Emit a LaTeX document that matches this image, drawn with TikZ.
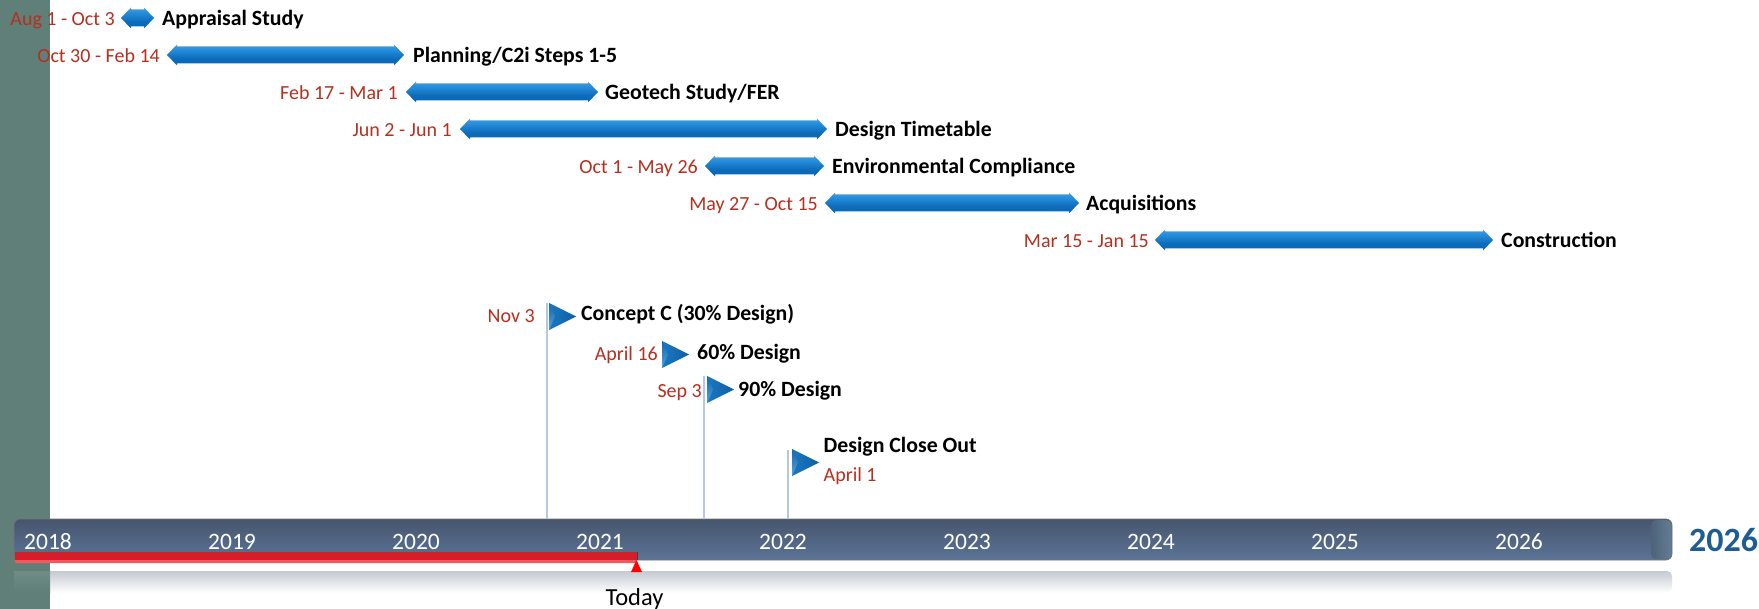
\documentclass[tikz,border=0pt]{standalone}
\usepackage{fontspec}
\setmainfont{Carlito}
\definecolor{bandc}{HTML}{5F7F78}
\definecolor{datec}{HTML}{B5301F}
\definecolor{yearc}{HTML}{1F5C91}
\definecolor{stemc}{HTML}{B4C8E0}
\definecolor{flagl}{HTML}{1B78C2}
\definecolor{flagr}{HTML}{0F5FA3}
\definecolor{flagbevt}{HTML}{1565AC}
\definecolor{flagbevb}{HTML}{4FA8E2}
\definecolor{bartop}{HTML}{46556C}
\definecolor{barbot}{HTML}{5C7498}
\definecolor{capl}{HTML}{4E627A}
\definecolor{capr}{HTML}{647D91}
\definecolor{redlight}{HTML}{F05A5F}
\definecolor{redmain}{HTML}{D61E28}
\definecolor{reflc}{HTML}{C4CAD2}
\definecolor{sa}{HTML}{2E8AD4}
\definecolor{sb}{HTML}{0B69B6}
\definecolor{sc}{HTML}{0C6CBA}
\definecolor{sd}{HTML}{2288D8}
\definecolor{se}{HTML}{3498DE}
\definecolor{sf}{HTML}{7FA5C8}
\pgfdeclareverticalshading{taskbar}{100bp}{
  color(0bp)=(sa);
  color(25bp)=(sa);
  color(30bp)=(sb);
  color(42bp)=(sc);
  color(60bp)=(sd);
  color(70bp)=(se);
  color(75bp)=(sf);
  color(100bp)=(sf)}
\tikzset{
  taskt/.style={anchor=mid west,inner sep=0pt,yshift=-5.5pt,font=\fontsize{21.8}{24}\selectfont\bfseries,text=black},
  datel/.style={anchor=mid east,inner sep=0pt,yshift=-5.5pt,font=\fontsize{20}{24}\selectfont,text=datec},
  datew/.style={anchor=mid west,inner sep=0pt,yshift=-4.5pt,font=\fontsize{20}{24}\selectfont,text=datec},
  yeart/.style={anchor=mid,inner sep=0pt,yshift=-6.5pt,font=\fontsize{23.5}{26}\selectfont,text=white},
  stemline/.style={draw=stemc,line width=1.6pt},
}
% double arrow: #1 x left, #2 x right, #3 y centre
\newcommand{\dblarrow}[3]{%
  \path[shading=taskbar]
    (#1,#3) -- (#1+10,#3-10.5) -- (#1+10,#3-8.5) -- (#2-10,#3-8.5) -- (#2-10,#3-10.5) -- (#2,#3)
    -- (#2-10,#3+10.5) -- (#2-10,#3+8.5) -- (#1+10,#3+8.5) -- (#1+10,#3+10.5) -- cycle;
}
% flag: #1 x left, #2 y top
\newcommand{\flagmark}[2]{%
  \path[left color=flagl,right color=flagr]
    (#1,#2) -- (#1+27,#2+13.5) -- (#1,#2+27) -- cycle;
  \path[top color=flagbevt,bottom color=flagbevb]
    (#1,#2) -- (#1+6,#2+13.5) -- (#1,#2+27) -- cycle;
}
\begin{document}
\begin{tikzpicture}[x=1pt,y=-1pt]
\useasboundingbox (0,0) rectangle (1759,609);
\fill[white] (0,0) rectangle (1759,609);
\fill[bandc] (0,0) rectangle (50,609);
% reflection
\path[top color=reflc,bottom color=white,rounded corners=5pt] (14,571) -- (1672,571) -- (1672,593) -- (14,593) -- cycle;
\path[top color=bandc!90!white,bottom color=bandc] (14,571) rectangle (50,593);
% timeline bar
\node[draw=black!55,line width=.6pt,rounded corners=6pt,minimum width=1658pt,minimum height=41pt,inner sep=0pt,
  top color=bartop,bottom color=barbot] (timeline) at (843,539.5) {};
\path[left color=capl,right color=capr,rounded corners=5pt]
  (1651,520) -- (1671.5,520) -- (1671.5,559) -- (1651,559) -- cycle;
% red progress
\fill[redlight,rounded corners=1pt] (15,552) rectangle (637,563);
\fill[redmain] (15,552) rectangle (637,560);
% years
\foreach \yr/\xx in {2018/48,2019/232,2020/416,2021/600,2022/783,2023/967,2024/1151,2025/1335,2026/1519}
  \node[yeart] (y\yr) at (\xx,541) {\yr};
\node[anchor=mid west,inner sep=0pt,font=\fontsize{34}{36}\selectfont\bfseries,text=yearc] (yend) at (1689,549) {2026};
% today
\fill[red] (631,572) -- (636.5,560) -- (642,572) -- cycle;
\draw[black!75,line width=.8pt] (637,552) -- (637,560);
\node[anchor=mid,inner sep=0pt,font=\fontsize{24.5}{26}\selectfont,text=black] (today) at (634.5,603) {Today};
% tasks
\dblarrow{121}{154}{18}
\node[datel] (d1) at (115,18) {Aug 1 - Oct 3};
\node[taskt] (t1) at (162,18) {Appraisal Study};
\dblarrow{167}{404}{55}
\node[datel] (d2) at (160,55) {Oct 30 - Feb 14};
\node[taskt] (t2) at (413,55) {Planning/C2i Steps 1-5};
\dblarrow{406}{598}{92}
\node[datel] (d3) at (398,92) {Feb 17 - Mar 1};
\node[taskt] (t3) at (605,92) {Geotech Study/FER};
\dblarrow{460}{827}{129}
\node[datel] (d4) at (452,129) {Jun 2 - Jun 1};
\node[taskt] (t4) at (835,129) {Design Timetable};
\dblarrow{705}{824}{166}
\node[datel] (d5) at (698,166) {Oct 1 - May 26};
\node[taskt] (t5) at (832,166) {Environmental Compliance};
\dblarrow{825}{1079}{203}
\node[datel] (d6) at (818,203) {May 27 - Oct 15};
\node[taskt] (t6) at (1086,203) {Acquisitions};
\dblarrow{1155}{1493}{240}
\node[datel] (d7) at (1149,240) {Mar 15 - Jan 15};
\node[taskt] (t7) at (1501,240) {Construction};
% milestones
\coordinate (m1) at (547,303);
\coordinate (m3) at (704,376);
\coordinate (m4) at (788,450);
\draw[stemline] (m1) -- (m1 |- timeline.north);
\draw[stemline] (m3) -- (m3 |- timeline.north);
\draw[stemline] (m4) -- (m4 |- timeline.north);
\flagmark{549}{303}
\flagmark{662}{341}
\flagmark{707}{376}
\flagmark{792}{449}
\node[taskt] (c1) at (581,313) {Concept C (30\% Design)};
\node[datel] (e1) at (535,315) {Nov 3};
\node[taskt] (c2) at (697,352) {60\% Design};
\node[datel] (e2) at (658,353) {April 16};
\node[taskt] (c3) at (738,389) {90\% Design};
\node[datel] (e3) at (702,390) {Sep 3};
\node[taskt] (c4) at (823.5,445) {Design Close Out};
\node[datew] (e4) at (823.5,475) {April 1};
\end{tikzpicture}
\end{document}
